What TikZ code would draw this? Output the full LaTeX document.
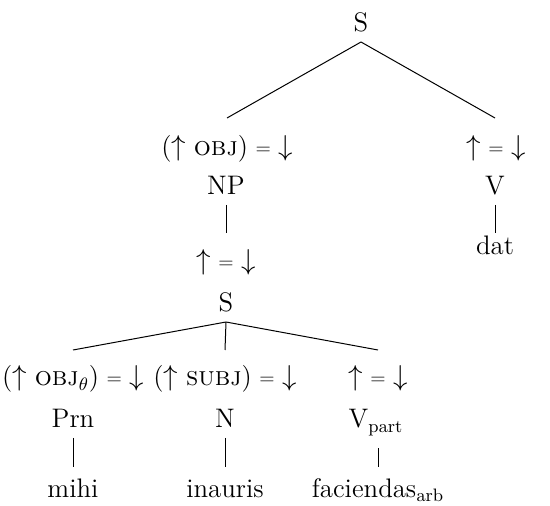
\documentclass[tikz,border=0pt]{standalone}
\usepackage{graphicx}
\newcommand{\eqn}{\;\raisebox{0.6pt}{\scalebox{0.75}{=}}\;}
\newcommand{\annup}{$\uparrow$}
\newcommand{\anndown}{$\downarrow$}
\begin{document}
\begin{tikzpicture}[x=0.5pt,y=-0.5pt,
  lbl/.style={inner sep=0pt, anchor=base, font=\fontsize{13.4}{16}\selectfont},
  branch/.style={line width=0.5pt}]
\useasboundingbox (0,0) rectangle (550,506);
% top level
\node[lbl] (S1) at (361,32) {S};
\node[lbl] (A1) at (227,156) {(\annup\kern4pt\textsc{obj})\eqn\anndown};
\node[lbl] (A2) at (496,156) {\annup\eqn\anndown};
\node[lbl] (NP) at (226,195) {NP};
\node[lbl] (V) at (495,195) {V};
\node[lbl] (dat) at (495,255) {dat};
\node[lbl] (A3) at (226,270) {\annup\eqn\anndown};
\node[lbl] (S2) at (226,312) {S};
% lower level
\node[lbl] (B1) at (73,386) {(\annup\kern4pt\textsc{obj}$_\theta$)\eqn\anndown};
\node[lbl] (B2) at (225,386) {(\annup\kern4pt\textsc{subj})\eqn\anndown};
\node[lbl] (B3) at (378,386) {\annup\eqn\anndown};
\node[lbl] (Prn) at (73,428) {Prn};
\node[lbl] (N) at (225,428) {N};
\node[lbl] (Vp) at (376,428) {V$_{\mathrm{part}}$};
\node[lbl] (mihi) at (73,497) {mihi};
\node[lbl] (inauris) at (225,497) {inauris};
\node[lbl] (fac) at (378,497) {faciendas$_{\mathrm{arb}}$};
% branches
\draw[branch] ([yshift=-5pt]S1.base) -- ([yshift=19pt]A1.base);
\draw[branch] ([yshift=-5pt]S1.base) -- ([xshift=-0.5pt,yshift=19pt]A2.base);
\draw[branch] ([yshift=-5pt]NP.base) -- ([yshift=18.5pt]A3.base);
\draw[branch] ([yshift=-5pt]V.base) -- ([yshift=11pt]dat.base);
\draw[branch] ([yshift=-5pt]S2.base) -- ([yshift=18pt]B1.base);
\draw[branch] ([yshift=-5pt]S2.base) -- ([yshift=18pt]B2.base);
\draw[branch] ([yshift=-5pt]S2.base) -- ([yshift=18pt]B3.base);
\draw[branch] ([yshift=-5pt]Prn.base) -- ([yshift=15pt]mihi.base);
\draw[branch] ([yshift=-5pt]N.base) -- ([yshift=15pt]inauris.base);
\draw[branch] ([xshift=1pt,yshift=-10pt]Vp.base) -- ([yshift=15pt]fac.base);
\end{tikzpicture}
\end{document}
